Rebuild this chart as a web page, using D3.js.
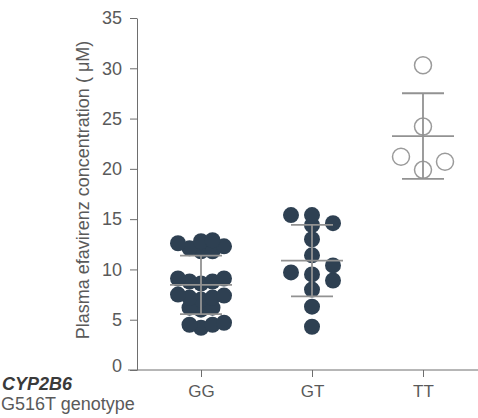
<!DOCTYPE html>
<html>
<head>
<meta charset="utf-8">
<script src="https://cdn.jsdelivr.net/npm/d3@7"></script>
<style>
  body { margin: 0; background: #fff; }
  text { font-family: "Liberation Sans", Arial, sans-serif; fill: #5a5a5a; }
</style>
</head>
<body>
<svg id="chart"></svg>
<script>
var WIDTH = 478, HEIGHT = 418;

// data (uM)
var genotypes = ["GG", "GT", "TT"];
var ggValues = [12.9, 12.8, 12.6, 12.3, 12.1, 11.8, 11.8,
                9.1, 9.1, 8.8, 8.8, 8.6,
                7.5, 7.4, 7.2, 7.2, 7.0,
                6.2, 6.2, 6.0,
                4.7, 4.5, 4.5, 4.2];
var gtValues = [15.4, 15.4, 14.6, 14.4, 13.0, 11.4, 10.4, 9.7, 9.5, 8.9, 8.0, 6.3, 4.3];
var ttValues = [30.3, 24.2, 21.2, 20.7, 19.9];
var yTicks = [0, 5, 10, 15, 20, 25, 30, 35];
var yLabel = "Plasma efavirenz concentration ( \u03bcM)";

var groups = [
    {name: "GG", values: ggValues, open: false, colStep: 11.5, minDy: 10},
    {name: "GT", values: gtValues, open: false, colStep: 21, minDy: 10},
    {name: "TT", values: ttValues, open: true, colStep: 22, minDy: 18}
];

var svg = d3.select("#chart")
    .attr("width", WIDTH)
    .attr("height", HEIGHT);

var x = d3.scalePoint().domain(genotypes).range([201, 423]);
var y = d3.scaleLinear().domain([0, 35]).range([370, 18]);

var DOT_R = 8;

// column scatter, roughly how Prism does it: each point goes into the
// column nearest the centre where it does not sit on top of another one
function columnScatter(values, step, minDy) {
    var placed = [];
    var cols = [0, 1, -1, 2, -2, 3, -3, 4, -4];
    values.slice().sort(d3.ascending).forEach(function(v) {
        var py = y(v);
        var col = cols.find(function(c) {
            return placed.every(function(p) {
                return p.col != c || Math.abs(p.y - py) >= minDy;
            });
        });
        placed.push({v: v, y: py, col: col, dx: col * step});
    });
    return placed;
}

// axes
var yAxis = svg.append("g")
    .attr("transform", "translate(137,0)")
    .call(d3.axisLeft(y).tickValues(yTicks).tickSize(7).tickSizeOuter(0).tickPadding(8));
yAxis.selectAll("line, path").attr("stroke", "#6e6e6e");
yAxis.selectAll("text").attr("font-size", 18).style("fill", "#5a5a5a");
yAxis.select(".tick text").attr("dy", "0.1em");

var xAxis = svg.append("g")
    .attr("transform", "translate(0,370)")
    .call(d3.axisBottom(x).tickSize(7).tickPadding(8));
xAxis.select(".domain").remove();
xAxis.selectAll("line").attr("stroke", "#6e6e6e");
xAxis.selectAll("text").attr("font-size", 17).style("fill", "#5a5a5a");
svg.append("line")
    .attr("x1", 128).attr("x2", WIDTH)
    .attr("y1", 370).attr("y2", 370)
    .attr("stroke", "#6e6e6e");

svg.append("text")
    .attr("transform", "translate(89,190) rotate(-90)")
    .attr("text-anchor", "middle")
    .attr("font-size", 18)
    .text(yLabel);

svg.append("text")
    .attr("x", 2).attr("y", 390)
    .attr("font-size", 18)
    .attr("font-weight", "bold")
    .attr("font-style", "italic")
    .style("fill", "#3a3a3a")
    .text("CYP2B6");
svg.append("text")
    .attr("x", 1).attr("y", 410)
    .attr("font-size", 18)
    .text("G516T genotype");

// points
groups.forEach(function(g) {
    var cx = x(g.name);
    svg.append("g").selectAll("circle")
        .data(columnScatter(g.values, g.colStep, g.minDy))
        .join("circle")
        .attr("cx", function(d) { return cx + d.dx; })
        .attr("cy", function(d) { return d.y; })
        .attr("r", g.open ? DOT_R + 0.5 : DOT_R)
        .attr("fill", g.open ? "#fff" : "#2e4052")
        .attr("stroke", g.open ? "#9a9a9a" : "none")
        .attr("stroke-width", 1.5);
});

// mean and SD bars
groups.forEach(function(g) {
    var cx = x(g.name);
    var m = d3.mean(g.values), sd = d3.deviation(g.values);
    var bar = svg.append("g").attr("stroke", "#929292").attr("stroke-width", 1.8);
    bar.append("line")
        .attr("x1", cx).attr("x2", cx)
        .attr("y1", y(m + sd)).attr("y2", y(m - sd));
    bar.append("line")
        .attr("x1", cx - 31).attr("x2", cx + 31)
        .attr("y1", y(m)).attr("y2", y(m));
    [m + sd, m - sd].forEach(function(v) {
        bar.append("line")
            .attr("x1", cx - 21).attr("x2", cx + 21)
            .attr("y1", y(v)).attr("y2", y(v));
    });
});
</script>
</body>
</html>
